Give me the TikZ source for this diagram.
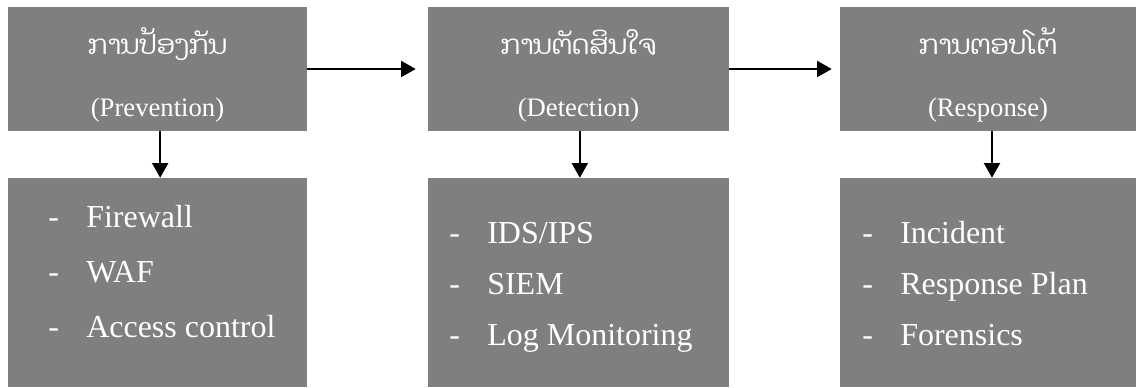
\documentclass[tikz,border=0pt]{standalone}
\usepackage{fontspec}
\setmainfont{Liberation Serif}
\newfontfamily\laofont[Script=Lao]{Dhyana}
\usepackage{tikz}
\usetikzlibrary{positioning, arrows.meta, calc}
\definecolor{boxgray}{RGB}{127,127,127}

\newcommand{\stagetitle}[2]{\rule[-4pt]{0pt}{32.5pt}\smash{\laofont\fontsize{20}{24}\selectfont #1}\\[27.5pt]{\fontsize{20}{24}\selectfont (#2)}}
\newcommand{\dashitem}[1]{\makebox[28.5pt][l]{-}#1}

\begin{document}
\begin{tikzpicture}[
    x=0.75pt, y=0.75pt,
    stage/.style={rectangle, fill=boxgray, text=white, inner sep=0pt, minimum height=93pt, align=center},
    toolbox/.style={rectangle, fill=boxgray, inner sep=0pt, minimum height=156.75pt},
    items/.style={text=white, inner sep=0pt, align=left, anchor=base west, font=\fontsize{24}{38.25}\selectfont},
    arrow/.style={-{Triangle[length=11pt, width=12pt]}, line width=1.5pt}
]
    \useasboundingbox (0,0) rectangle (1136,387);

    % Étapes
    \node[stage, minimum width=224.25pt] (prev) at (157.5,318) {\stagetitle{ການປ້ອງກັນ}{Prevention}};
    \node[stage, minimum width=225.75pt] (detect) at (578.5,318) {\stagetitle{ການຕັດສິນໃຈ}{Detection}};
    \node[stage, minimum width=222pt] (resp) at (988,318) {\stagetitle{ການຕອບໂຕ້}{Response}};

    % Outils (ancrage sur la dernière ligne)
    \node[toolbox, minimum width=224.25pt] (prevbox) at (157.5,104.5) {};
    \node[toolbox, minimum width=225.75pt] (detectbox) at (578.5,104.5) {};
    \node[toolbox, minimum width=222pt] (respbox) at (988,104.5) {};

    \node[items, font=\fontsize{24}{41.25}\selectfont] (prevlist) at (48,50) {\dashitem{Firewall}\\\dashitem{WAF}\\\dashitem{Access control}};
    \node[items] (detectlist) at (449,42) {\dashitem{IDS/IPS}\\\dashitem{SIEM}\\\dashitem{Log Monitoring}};
    \node[items] (resplist) at (862,42) {\dashitem{Incident}\\\dashitem{Response Plan}\\\dashitem{Forensics}};

    % Flèches
    \draw[arrow, shorten >=9pt] (prev) -- (detect);
    \draw[arrow, shorten >=6pt] (detect) -- (resp);
    \draw[arrow] ([xshift=2pt]prev.south) -- ([xshift=2pt]prevbox.north);
    \draw[arrow] ([xshift=1pt]detect.south) -- ([xshift=1pt]detectbox.north);
    \draw[arrow] ([xshift=3pt]resp.south) -- ([xshift=3pt]respbox.north);
\end{tikzpicture}
\end{document}
